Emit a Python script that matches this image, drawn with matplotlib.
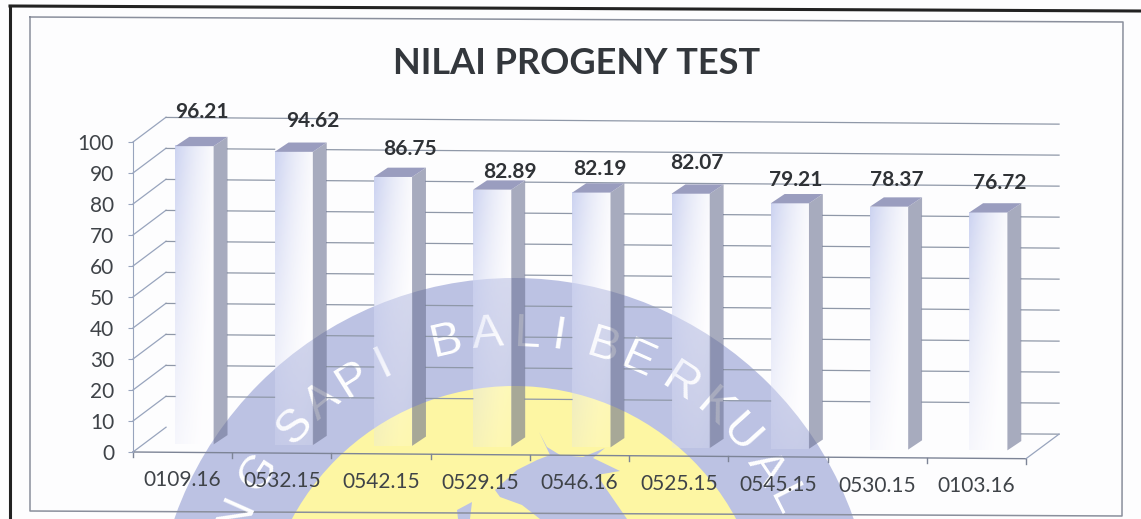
import numpy as np
import matplotlib

matplotlib.use("Agg")
from matplotlib import pyplot as plt
from matplotlib.patches import Circle, Polygon

plt.rcParams["font.family"] = ["Lato", "DejaVu Sans"]

# data
categories = ["0109.16", "0532.15", "0542.15", "0529.15", "0546.16",
              "0525.15", "0545.15", "0530.15", "0103.16"]
values = [96.21, 94.62, 86.75, 82.89, 82.19, 82.07, 79.21, 78.37, 76.72]
y_ticks = [0, 10, 20, 30, 40, 50, 60, 70, 80, 90, 100]

# data labels were dragged by hand in the original, offsets in pixels
label_dx = [7, 19, 17, 18, 8, 6, 6, 8, 11]
label_dy = [34, 31, 28, 18, 24, 31, 23, 27, 30]

W, H = 1141, 519
LEFT, RIGHT, BASE, TOP = 133, 1026, 452, 142

# scan is slightly crooked, the chart drops to the right
TILT = 0.24
WALL_DX, WALL_DY = 0.333, 8.0
BAR_W = 0.385
BAR_SHIFT = 0.12
BAR_FRONT = (0.10, 2.6)
BAR_DEPTH = (0.14, 3.0)

GRID = "#8f98a8"
AXIS = "#98a4bd"
TEXT = "#3f4348"
BLUE = "#bcc2e3"
YELLOW = "#fdf6a3"

fig = plt.figure(figsize=(W / 100, H / 100), dpi=100, facecolor="#fdfdfe")

# page layer in pixel coordinates: frames and the watermark
bg = fig.add_axes([0, 0, 1, 1])
bg.set_xlim(0, W)
bg.set_ylim(H, 0)
bg.axis("off")
bg.add_patch(Circle((514, 638), 360, color=BLUE, lw=0))
bg.add_patch(Circle((514, 638), 252, color=YELLOW, lw=0))
bg.add_patch(Polygon(
    [(539, 432), (547, 447), (560, 455), (583, 457), (605, 448), (593, 458),
     (620, 471), (597, 475), (607, 490), (627, 519), (540, 519), (522, 505),
     (500, 497), (495, 490), (517, 470), (537, 460), (550, 455)],
    color=BLUE, lw=0))
bg.add_patch(Polygon([(472, 502), (457, 510), (458, 519), (470, 519)],
                     color=BLUE, lw=0))

ring = [("N", -66), ("G", -57), ("S", -46), ("A", -39), ("P", -32), ("I", -25.5),
        ("B", -13), ("A", -5), ("L", 2.5), ("I", 8.5), ("B", 17), ("E", 24),
        ("R", 33), ("K", 41), ("U", 48), ("A", 56), ("L", 63)]
for letter, ang in ring:
    a = np.radians(ang)
    bg.text(514 + 304 * np.sin(a), 638 - 304 * np.cos(a), letter, color="white",
            fontsize=34, family="Liberation Sans", rotation=-ang,
            rotation_mode="anchor", ha="center", va="center")

bg.plot([10, 10], [6, H], color="#222222", lw=2.2)
bg.plot([10, W], [6, 11], color="#222222", lw=2.2)
bg.plot([30, 1123, 1122, 30, 30], [17, 22, 516, 511, 17], color="#8a8f9c", lw=1.1)

# chart layer
ax = fig.add_axes([LEFT / W, 1 - BASE / H, (RIGHT - LEFT) / W, (BASE - TOP) / H])
ax.patch.set_alpha(0)
ax.set_xlim(0, len(categories))
ax.set_ylim(0, 100)
for name in ["top", "right", "bottom"]:
    ax.spines[name].set_visible(False)
ax.spines["left"].set_color(AXIS)
ax.set_xticks([])
ax.set_yticks(y_ticks)
ax.tick_params(axis="y", length=5 * 0.72, color=AXIS, labelsize=15, labelcolor=TEXT, pad=10)

n = len(categories)


def drop(x):
    return -TILT * x


xs = np.arange(n) + 0.5 + BAR_SHIFT
bottoms = drop(xs) + BAR_FRONT[1]
tops = bottoms + np.array(values)

# side wall and back wall lines, the back ones stop behind the bars
for t in y_ticks:
    ax.plot([0, WALL_DX], [t, t + WALL_DY], color=AXIS, lw=0.9, clip_on=False, zorder=1)
    start = WALL_DX
    for i in range(n):
        x0 = xs[i] - BAR_W / 2
        x1 = xs[i] + BAR_W / 2 + BAR_DEPTH[0]
        if t + WALL_DY + drop(x0) < tops[i] + BAR_DEPTH[1] and t > 0:
            ax.plot([start, x0], [t + WALL_DY + drop(start), t + WALL_DY + drop(x0)],
                    color=GRID, lw=0.9, clip_on=False, zorder=1)
            start = x1
    if t > 0:
        ax.plot([start, n + WALL_DX], [t + WALL_DY + drop(start), t + WALL_DY + drop(n + WALL_DX)],
                color=GRID, lw=0.9, clip_on=False, zorder=1)
    else:
        # floor back edge only shows past the last bar
        ax.plot([xs[-1] + BAR_W / 2 + BAR_DEPTH[0], n + WALL_DX],
                [WALL_DY + drop(n), WALL_DY + drop(n + WALL_DX)],
                color=GRID, lw=0.9, clip_on=False, zorder=1)

# floor front edge with its ticks
ax.plot([0, n], [drop(0), drop(n)], color="#7d8496", lw=1, clip_on=False, zorder=1)
ax.plot([n, n + WALL_DX], [drop(n), drop(n + WALL_DX) + WALL_DY], color=AXIS, lw=0.9,
        clip_on=False, zorder=1)
for i in range(n + 1):
    ax.plot([i, i], [drop(i), drop(i) - 1.6], color="#7d8496", lw=1, clip_on=False, zorder=1)

# fade of the bar fronts: blue at the top left, almost nothing near the floor
fx = np.linspace(0, 1, 64)[None, :]
fy = np.linspace(0, 1, 96)[:, None]
grad = np.zeros((96, 64, 4))
grad[..., 0] = 0.78 + 0.19 * fx + 0.10 * fy
grad[..., 1] = 0.81 + 0.16 * fx + 0.08 * fy
grad[..., 2] = 0.94 + 0.05 * fx + 0.03 * fy
grad = np.clip(grad, 0, 1)
grad[..., 3] = (0.9 - 0.4 * fx) * (1 - 0.72 * fy)

bars = ax.bar(xs, values, width=BAR_W, bottom=bottoms, color="none", lw=0, zorder=3, clip_on=False)

for i, b in enumerate(bars):
    x0, x1 = xs[i] - BAR_W / 2, xs[i] + BAR_W / 2
    y0, y1 = bottoms[i], tops[i]
    dx, dy = BAR_DEPTH
    # side and top faces
    ax.add_patch(Polygon([(x1, y0), (x1 + dx, y0 + dy), (x1 + dx, y1 + dy), (x1, y1)],
                         color="#6a7090", alpha=0.58, lw=0, zorder=3, clip_on=False))
    ax.add_patch(Polygon([(x0, y1), (x1, y1), (x1 + dx, y1 + dy), (x0 + dx, y1 + dy)],
                         color="#9a9dbf", lw=0, zorder=3, clip_on=False))
    ax.imshow(grad, extent=(x0, x1, y0, y1), aspect="auto", zorder=2.5, clip_on=False,
              interpolation="bilinear")
    ax.annotate(f"{values[i]:.2f}", (xs[i], y1), xytext=(label_dx[i], label_dy[i]),
                textcoords="offset pixels", ha="center", va="center", fontsize=15,
                fontweight="bold", color="#2f3236", zorder=5, annotation_clip=False)

ax.set_xlim(0, n)
ax.set_ylim(0, 100)

# category labels follow the tilt, so they are placed one by one
for i, name in enumerate(categories):
    ax.annotate(name, (i + 0.5, drop(i + 0.5)), xytext=(0, -28), textcoords="offset pixels",
                ha="center", va="center", fontsize=15, color=TEXT, zorder=5, annotation_clip=False)

fig.text(577 / W, 1 - 63 / H, "NILAI PROGENY TEST", ha="center", va="center",
         fontsize=26, fontweight="bold", color="#33373c")

fig.savefig("out.png", dpi=100)
